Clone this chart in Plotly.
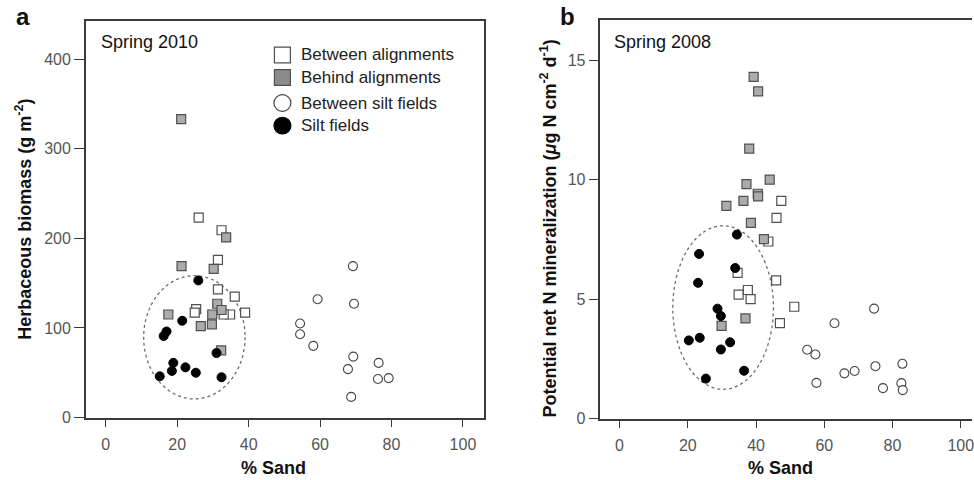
import plotly.graph_objects as go

# ---- Panel a: Spring 2010, herbaceous biomass vs % sand ----
a_between_align_x = [26.0, 32.4, 31.4, 31.4, 36.1, 39.0, 34.8, 33.0, 25.3, 24.9]
a_between_align_y = [223, 209, 176, 143, 135, 117, 115, 115, 121, 117]
a_behind_align_x = [21.1, 21.2, 33.7, 30.2, 31.2, 32.4, 29.8, 29.7, 26.6, 17.5, 32.3]
a_behind_align_y = [333, 169, 201, 166, 127, 120, 115, 104, 102, 115, 75]
a_between_silt_x = [69.2, 59.3, 69.5, 54.4, 54.4, 58.1, 69.3, 67.8, 76.4, 76.2, 79.2, 68.7]
a_between_silt_y = [169, 132, 127, 105, 93, 80, 68, 54, 61, 43, 44, 23]
a_silt_x = [25.9, 21.4, 17.0, 16.2, 31.0, 18.9, 18.5, 22.3, 25.2, 15.1, 32.4]
a_silt_y = [153, 108, 96, 91, 72, 61, 52, 56, 50, 46, 45]

# ---- Panel b: Spring 2008, potential net N mineralization vs % sand ----
b_between_align_x = [47.4, 46.0, 43.6, 45.9, 34.6, 34.9, 37.6, 38.4, 51.2, 47.0]
b_between_align_y = [9.11, 8.40, 7.41, 5.78, 6.10, 5.19, 5.38, 5.00, 4.68, 3.99]
b_behind_align_x = [39.3, 40.6, 38.0, 37.2, 44.0, 40.5, 40.6, 31.3, 36.3, 38.5, 42.3, 36.9, 29.9]
b_behind_align_y = [14.3, 13.7, 11.3, 9.81, 10.0, 9.41, 9.30, 8.90, 9.11, 8.19, 7.51, 4.19, 3.88]
b_between_silt_x = [74.6, 63.0, 55.0, 57.4, 57.7, 65.9, 68.9, 75.0, 82.9, 77.2, 82.6, 83.0]
b_between_silt_y = [4.60, 3.99, 2.88, 2.68, 1.49, 1.89, 1.99, 2.19, 2.29, 1.27, 1.48, 1.19]
b_silt_x = [34.4, 23.3, 23.0, 33.9, 28.7, 29.7, 20.3, 23.5, 32.4, 29.7, 25.3, 36.5]
b_silt_y = [7.70, 6.89, 5.68, 6.30, 4.60, 4.29, 3.27, 3.38, 3.19, 2.89, 1.67, 2.00]

x_ticks = [0, 20, 40, 60, 80, 100]
a_y_ticks = [0, 100, 200, 300, 400]
b_y_ticks = [0, 5, 10, 15]

legend_labels = ["Between alignments", "Behind alignments", "Between silt fields", "Silt fields"]

W, H = 974, 480
FONT = "Liberation Sans, Arial, Helvetica, sans-serif"
FRAME = "#3a3a3a"
TICKTXT = "#555555"


def px(x):
    return x / W


def py(y):
    return 1 - y / H


styles = {
    "between_align": dict(symbol="square", size=9, color="white", line=dict(color="#505050", width=1.2)),
    "behind_align": dict(symbol="square", size=9, color="#ababab", line=dict(color="#505050", width=1.2)),
    "between_silt": dict(symbol="circle", size=9, color="white", line=dict(color="#444444", width=1.1)),
    "silt": dict(symbol="circle", size=9, color="black", line=dict(color="black", width=1)),
}

fig = go.Figure()


def add_panel(xa, ya, series):
    for key, xs, ys, name in series:
        fig.add_trace(go.Scatter(x=xs, y=ys, mode="markers", marker=styles[key],
                                 name=name, showlegend=False, xaxis=xa, yaxis=ya,
                                 hoverinfo="x+y"))


add_panel("x", "y", [
    ("between_align", a_between_align_x, a_between_align_y, legend_labels[0]),
    ("behind_align", a_behind_align_x, a_behind_align_y, legend_labels[1]),
    ("between_silt", a_between_silt_x, a_between_silt_y, legend_labels[2]),
    ("silt", a_silt_x, a_silt_y, legend_labels[3]),
])
add_panel("x2", "y2", [
    ("between_align", b_between_align_x, b_between_align_y, legend_labels[0]),
    ("behind_align", b_behind_align_x, b_behind_align_y, legend_labels[1]),
    ("between_silt", b_between_silt_x, b_between_silt_y, legend_labels[2]),
    ("silt", b_silt_x, b_silt_y, legend_labels[3]),
])

axis_common = dict(showgrid=False, zeroline=False, showline=True, linecolor=FRAME, linewidth=1.5,
                   ticks="outside", tickwidth=1.3, tickcolor=FRAME,
                   tickfont=dict(family=FONT, size=16, color=TICKTXT), fixedrange=True,
                   ticklabeloverflow="allow")
x_common = dict(axis_common, ticklen=8, ticklabelstandoff=4, tickvals=x_ticks, mirror=True)
y_common = dict(axis_common, ticklen=10)

fig.update_layout(
    width=W, height=H,
    margin=dict(l=0, r=0, t=0, b=0),
    paper_bgcolor="white", plot_bgcolor="white",
    xaxis=dict(x_common, domain=[px(86), px(485)], range=[-5.6, 105.9], anchor="y"),
    yaxis=dict(y_common, domain=[py(425.5), py(21)], range=[0, 443], tickvals=a_y_ticks,
               mirror=True, anchor="x"),
    xaxis2=dict(x_common, domain=[px(601.7), 1.0], range=[-5.6, 103.3], anchor="y2"),
    yaxis2=dict(y_common, domain=[py(426.5), py(20)], range=[0, 16.7], tickvals=b_y_ticks,
                mirror=False, anchor="x2"),
)

# dotted ellipses around the silt-field cluster
ell = dict(type="circle", line=dict(color="#6e6e6e", width=1.3, dash="dot"), layer="below")
fig.add_shape(ell, xref="x", yref="y", x0=10.6, x1=39.0, y0=20.8, y1=158.4)
fig.add_shape(ell, xref="x2", yref="y2", x0=15.6, x1=45.1, y0=1.22, y1=8.07)

# legend block in panel a
leg_cx, leg_rows, half = 283, [56, 79, 105, 128], 8
leg_shapes = [
    ("rect", "white", "#505050"),
    ("rect", "#8c8c8c", "#505050"),
    ("circle", "white", "#444444"),
    ("circle", "black", "black"),
]
for (kind, fill, edge), cy, label in zip(leg_shapes, leg_rows, legend_labels):
    h = half if kind == "rect" else half + 0.5
    fig.add_shape(type=kind, xref="paper", yref="paper",
                  x0=px(leg_cx - h), x1=px(leg_cx + h), y0=py(cy + h), y1=py(cy - h),
                  fillcolor=fill, line=dict(color=edge, width=1.2))
    fig.add_annotation(text=label, xref="paper", yref="paper", x=px(300), y=py(cy),
                       xanchor="left", yanchor="middle", showarrow=False,
                       font=dict(family=FONT, size=17, color="#222222"))

texts = [
    # text, x, y, size, bold, angle, xanchor, yanchor
    ("a", 23, 17, 24, True, 0, "center", "middle"),
    ("b", 569, 17, 24, True, 0, "center", "middle"),
    ("Spring 2010", 100, 43, 18, False, 0, "left", "middle"),
    ("Spring 2008", 614, 43, 18, False, 0, "left", "middle"),
    ("% Sand", 274, 477, 18, True, 0, "center", "middle"),
    ("% Sand", 782, 477, 18, True, 0, "center", "middle"),
    ("Herbaceous biomass (g m<sup>-2</sup>)", 24, 223, 18, True, -90, "center", "middle"),
    ("Potential net N mineralization (<i>μ</i>g N cm<sup>-2</sup> d<sup>-1</sup>)", 550, 233, 18, True, -90, "center", "middle"),
]
for t, x, y, s, b, ang, xa, ya in texts:
    fig.add_annotation(text=f"<b>{t}</b>" if b else t, xref="paper", yref="paper",
                       x=px(x), y=py(y), xanchor=xa, yanchor=ya, showarrow=False,
                       textangle=ang, borderpad=0,
                       font=dict(family=FONT, size=s, color="#111111"))

fig.write_html("out.html", config={"displayModeBar": False})
